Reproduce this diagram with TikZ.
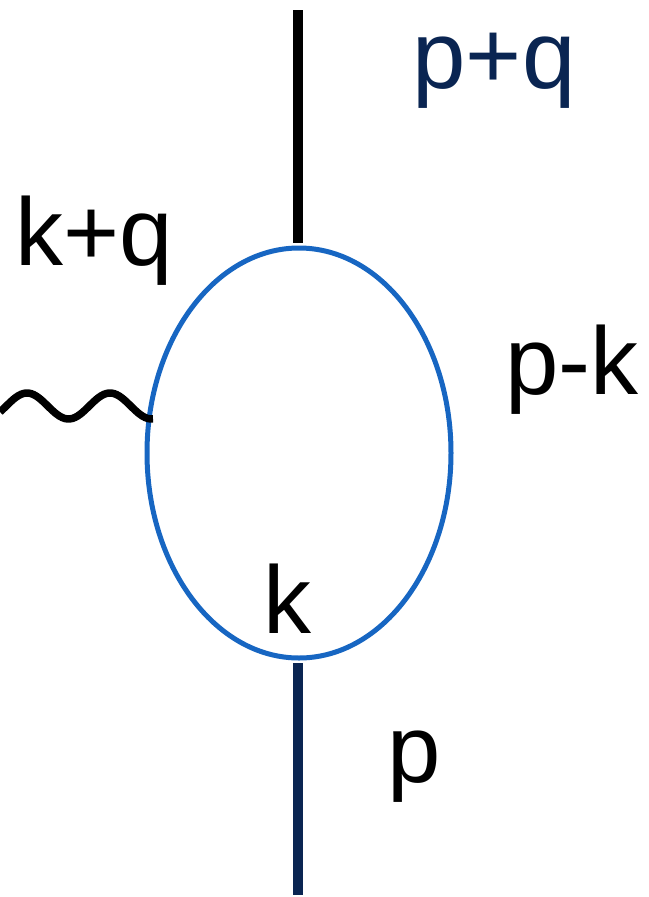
\documentclass[tikz,border=0pt]{standalone}
\usepackage{fontspec}
\setmainfont{Liberation Sans}
\definecolor{navy}{HTML}{0A2552}
\definecolor{loopblue}{HTML}{1766C2}
\begin{document}
\begin{tikzpicture}[x=1pt,y=-1pt,
  lbl/.style={anchor=base,inner sep=0pt,font=\fontsize{96}{110}\selectfont},
  fermion/.style={line width=10pt},
  photon/.style={line width=7.5pt,black}]
\useasboundingbox (0,0) rectangle (648,897);
% loop
\draw[loopblue,line width=5pt] (299,453) ellipse [x radius=152, y radius=205];
% external lines
\coordinate (topA) at (298,10);
\coordinate (topB) at (298,243);
\coordinate (botA) at (298,663);
\coordinate (botB) at (298,895);
\draw[fermion,black] (topA) -- (topB);
\draw[fermion,navy] (botA) -- (botB);
% photon
\draw[photon] plot[smooth,domain=0:153,samples=60] (\x,{406-13*cos(4.3373*(\x-27))});
% labels
\node[lbl,navy] (pq) at (494,88) {p+q};
\node[lbl] (kq) at (94,265) {k+q};
\node[lbl] (pk) at (572,394) {p-k};
\node[lbl] (k) at (287,633) {k};
\node[lbl] (p) at (414,782) {p};
\end{tikzpicture}
\end{document}
